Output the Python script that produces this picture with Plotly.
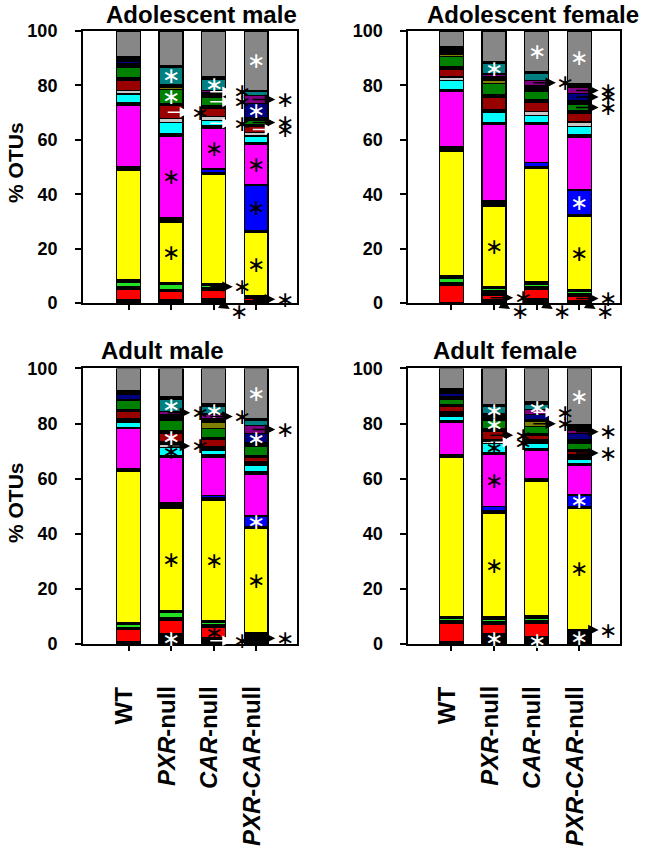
import plotly.graph_objects as go

# ---------------- data ----------------
taxon_keys = ["k0", "red", "k1", "lime", "k2", "yellow", "k3", "blue", "magenta", "k4",
              "cyan", "lgray", "k5a", "darkred", "k5", "dkgreen", "olive", "k6", "navy",
              "purple", "teal", "k7", "gray"]
taxon_names = ["Unclassified 1", "OTU group 1", "Unclassified 2", "OTU group 2", "Unclassified 3",
               "OTU group 3", "Unclassified 4", "OTU group 4", "OTU group 5", "Unclassified 5",
               "OTU group 6", "OTU group 7", "Unclassified 6", "OTU group 8", "Unclassified 7",
               "OTU group 9", "OTU group 10", "Unclassified 8", "OTU group 11", "OTU group 12",
               "OTU group 13", "Unclassified 9", "Others"]
taxon_colors = ["#000000", "#FF0000", "#000000", "#22E022", "#000000", "#FFFF00", "#000000",
                "#0000FF", "#FF00FF", "#000000", "#00FFFF", "#C8C8C8", "#000000", "#990000",
                "#000000", "#008000", "#808000", "#000000", "#000080", "#800080", "#008080",
                "#000000", "#878787"]

genotypes = ["WT", "PXR-null", "CAR-null", "PXR-CAR-null"]
genotype_labels = ["<b>WT</b>", "<b><i>PXR</i>-null</b>", "<b><i>CAR</i>-null</b>",
                   "<b><i>PXR</i>-<i>CAR</i>-null</b>"]
panel_titles = ["Adolescent male", "Adolescent female", "Adult male", "Adult female"]

# % OTUs per taxon (bottom -> top) for each bar
am_wt = [1.2, 3.7, 1.1, 1.7, 0.9, 40.1, 1.5, 0, 22.3, 1.0, 3.3, 1.4, 0, 3.5, 1.2, 3.9, 0, 1.2, 1.0, 0, 0, 1.5, 9.5]
am_pxr = [1.2, 3.2, 0.7, 1.6, 0.8, 22.2, 1.8, 0, 29.7, 0.9, 4.3, 1.4, 0, 4.7, 0.8, 5.3, 0.8, 1.0, 0, 0, 6.2, 0.8, 12.6]
am_car = [1.6, 3.0, 0.9, 1.0, 0.6, 40.1, 0.8, 1.3, 15.0, 0.8, 1.9, 1.5, 0, 3.1, 0.9, 3.0, 0, 1.7, 0, 1.0, 4.1, 0.8, 16.9]
am_dko = [1.0, 0.8, 1.0, 0, 0, 23.0, 0.8, 16.8, 14.8, 0.8, 2.4, 1.3, 0, 2.1, 0.7, 1.7, 0, 1.0, 5.2, 2.8, 1.5, 0.5, 21.8]

af_wt = [0.3, 6.2, 0.9, 1.8, 0.9, 45.6, 1.8, 0, 20.3, 0.8, 3.1, 1.4, 0, 2.9, 0.9, 3.6, 1.0, 0, 0, 0, 0, 2.7, 5.8]
af_pxr = [1.2, 1.5, 2.0, 0.8, 0.7, 29.5, 1.9, 0, 27.9, 0.9, 3.8, 0.8, 0, 4.5, 1.0, 4.2, 1.2, 1.3, 0, 1.0, 3.8, 0.8, 11.2]
af_car = [1.5, 3.7, 1.0, 0.8, 1.0, 41.5, 0.7, 1.5, 13.8, 0.9, 2.6, 1.4, 0, 3.5, 0.7, 3.2, 0, 2.2, 0, 1.9, 2.5, 0.6, 15.0]
af_dko = [0.9, 1.6, 0.9, 0.9, 0.6, 26.9, 0.8, 9.0, 19.4, 0.8, 3.2, 1.5, 0, 3.1, 1.2, 2.1, 0, 1.6, 2.5, 2.2, 0, 1.5, 19.3]

adm_wt = [0.7, 4.5, 0.6, 1.2, 0.9, 54.6, 1.2, 0, 14.5, 0.5, 1.9, 0.4, 0.8, 2.5, 0.8, 3.3, 0, 0.4, 1.8, 0, 0, 1.4, 8.0]
adm_pxr = [3.6, 5.0, 0.8, 1.9, 0.8, 37.3, 1.8, 0, 16.4, 0.6, 3.2, 1.0, 1.0, 3.2, 0.9, 3.6, 0, 2.2, 0, 1.2, 4.2, 0.9, 10.4]
adm_car = [2.4, 3.7, 0.9, 1.0, 0.6, 43.6, 0.8, 1.0, 13.8, 0.8, 1.7, 0, 1.4, 2.5, 0.8, 3.2, 2.1, 1.4, 0, 1.8, 2.8, 0.9, 12.8]
adm_dko = [4.2, 0, 0, 0, 0, 37.9, 0.6, 3.7, 15.3, 0.7, 2.5, 0, 1.2, 1.7, 0.7, 3.3, 0, 1.2, 3.3, 3.1, 1.7, 0.7, 18.2]

adf_wt = [0.7, 6.9, 0.9, 0.9, 0.6, 57.6, 1.2, 0, 11.6, 0.8, 1.5, 0, 1.6, 1.8, 0.9, 1.8, 0, 0.9, 1.3, 0, 0, 1.5, 7.5]
adf_pxr = [3.6, 3.6, 1.0, 0.9, 0.7, 37.7, 0.8, 1.6, 18.9, 0.7, 3.3, 0.9, 0.6, 3.0, 1.0, 3.0, 0, 2.4, 0, 0, 2.4, 0.9, 13.0]
adf_car = [2.8, 4.8, 0.8, 1.0, 0.9, 48.6, 1.2, 0, 10.3, 0.6, 1.8, 0, 1.2, 1.8, 0.6, 2.5, 2.0, 0.7, 1.7, 1.7, 2.0, 0.9, 12.1]
adf_dko = [4.9, 0.3, 0, 0, 0, 44.1, 0.6, 4.2, 10.6, 0.8, 1.6, 0, 1.7, 1.0, 0.6, 2.4, 0, 1.2, 2.3, 1.4, 0, 2.0, 20.3]

panel_values = [[am_wt, am_pxr, am_car, am_dko],
                [af_wt, af_pxr, af_car, af_dko],
                [adm_wt, adm_pxr, adm_car, adm_dko],
                [adf_wt, adf_pxr, adf_car, adf_dko]]

# significance markers: (panel, bar, taxon, style, colour)
markers = [
    (0, 1, "teal", "in", "white"), (0, 1, "dkgreen", "in", "white"), (0, 1, "darkred", "arrow", "white"),
    (0, 1, "magenta", "in", "black"), (0, 1, "yellow", "in", "black"),
    (0, 2, "teal", "in", "white"), (0, 2, "purple", "arrow", "white"), (0, 2, "dkgreen", "arrow", "white"),
    (0, 2, "cyan", "arrow", "white"), (0, 2, "magenta", "in", "black"), (0, 2, "lime", "arrow", "black"),
    (0, 2, "k0", "down", "black"),
    (0, 3, "gray", "in", "white"), (0, 3, "purple", "arrow", "black"), (0, 3, "navy", "in", "white"),
    (0, 3, "dkgreen", "arrow", "black"), (0, 3, "darkred", "arrow", "white"), (0, 3, "magenta", "in", "black"),
    (0, 3, "blue", "in", "black"), (0, 3, "yellow", "in", "black"), (0, 3, "red", "arrow", "black"),

    (1, 1, "teal", "in", "white"), (1, 1, "yellow", "in", "black"), (1, 1, "red", "arrow", "black"),
    (1, 1, "k0", "down", "black"),
    (1, 2, "gray", "in", "white"), (1, 2, "purple", "arrow", "black"), (1, 2, "k0", "down", "black"),
    (1, 3, "gray", "in", "white"), (1, 3, "purple", "arrow", "black"), (1, 3, "navy", "arrow", "black"),
    (1, 3, "dkgreen", "arrow", "black"), (1, 3, "blue", "in", "white"), (1, 3, "yellow", "in", "black"),
    (1, 3, "red", "arrow", "black"), (1, 3, "k0", "down", "black"),

    (2, 1, "teal", "in", "white"), (2, 1, "purple", "arrow", "black"), (2, 1, "darkred", "in", "white"),
    (2, 1, "lgray", "arrow", "black"), (2, 1, "cyan", "in", "black"), (2, 1, "yellow", "in", "black"),
    (2, 1, "k0", "in", "white"),
    (2, 2, "teal", "in", "white"), (2, 2, "purple", "arrow", "black"), (2, 2, "yellow", "in", "black"),
    (2, 2, "red", "in", "black"), (2, 2, "k0", "arrow", "white"),
    (2, 3, "gray", "in", "white"), (2, 3, "purple", "arrow", "black"), (2, 3, "navy", "in", "white"),
    (2, 3, "blue", "in", "white"), (2, 3, "yellow", "in", "black"), (2, 3, "k0", "arrow", "black"),

    (3, 1, "teal", "in", "white"), (3, 1, "dkgreen", "in", "white"), (3, 1, "darkred", "arrow", "black"),
    (3, 1, "lgray", "arrow", "white"), (3, 1, "cyan", "in", "black"), (3, 1, "magenta", "in", "black"),
    (3, 1, "yellow", "in", "black"), (3, 1, "k0", "in", "white"),
    (3, 2, "teal", "in", "white"), (3, 2, "purple", "arrow", "white"), (3, 2, "olive", "arrow", "black"),
    (3, 2, "k0", "in", "white"),
    (3, 3, "gray", "in", "white"), (3, 3, "purple", "arrow", "black"), (3, 3, "darkred", "arrow", "black"),
    (3, 3, "blue", "in", "white"), (3, 3, "yellow", "in", "black"), (3, 3, "red", "arrow", "black"),
    (3, 3, "k0", "in", "white"),
]

# ---------------- layout geometry ----------------
FONT = "Liberation Sans, Arial, sans-serif"
STAR = "\u2217"
STAR_SIZE = 22
xdom = [[0.1281, 0.4583], [0.6304, 0.9568], [0.1281, 0.4583], [0.6304, 0.9568]]
ydom = [[0.6439, 0.9636], [0.6439, 0.9636], [0.2433, 0.5670], [0.2433, 0.5670]]
xrng = [[-1.07, 3.96], [-1.0, 3.95], [-1.07, 3.96], [-1.0, 3.95]]

fig = go.Figure()
positions = list(range(len(genotypes)))

for p in range(4):
    sfx = "" if p == 0 else str(p + 1)
    for t, key in enumerate(taxon_keys):
        fig.add_trace(go.Bar(
            x=positions,
            y=[panel_values[p][b][t] for b in positions],
            name=taxon_names[t],
            customdata=genotypes,
            hovertemplate="%{customdata}: %{y}%<extra>" + taxon_names[t] + "</extra>",
            width=0.56,
            marker=dict(color=taxon_colors[t], line=dict(color="black", width=1.3)),
            xaxis="x" + sfx, yaxis="y" + sfx, showlegend=False,
        ))

layout = dict(
    width=648, height=851, barmode="stack",
    margin=dict(l=0, r=0, t=0, b=0, autoexpand=False),
    paper_bgcolor="white", plot_bgcolor="white",
    font=dict(family=FONT, color="black"),
    showlegend=False,
)
for p in range(4):
    sfx = "" if p == 0 else str(p + 1)
    layout["xaxis" + sfx] = dict(
        domain=xdom[p], range=xrng[p], tickvals=positions, ticks="outside", ticklen=5,
        tickwidth=1.5, tickcolor="black", showticklabels=False, showline=True,
        linecolor="black", linewidth=2, mirror=True, showgrid=False, zeroline=False,
        anchor="y" + sfx, fixedrange=True, automargin=False)
    layout["yaxis" + sfx] = dict(
        domain=ydom[p], range=[0, 100], tickvals=[0, 20, 40, 60, 80, 100], ticks="outside",
        ticklen=6, tickwidth=1.5, tickcolor="black", showline=True, linecolor="black",
        linewidth=2, mirror=True, showgrid=False, zeroline=False, anchor="x" + sfx,
        tickfont=dict(family=FONT, size=18, color="black", weight="bold"),
        ticklabelstandoff=14, fixedrange=True, automargin=False)
fig.update_layout(**layout)

annotations = []
# panel titles
title_pos = [(0.3117, 0.983), (0.8226, 0.983), (0.25, 0.5887), (0.779, 0.5887)]
for p in range(4):
    annotations.append(dict(text="<b>" + panel_titles[p] + "</b>", xref="paper", yref="paper",
                            x=title_pos[p][0], y=title_pos[p][1], xanchor="center", yanchor="middle",
                            showarrow=False, font=dict(family=FONT, size=24, color="black")))
# y-axis titles
for yc in (0.8096, 0.41):
    annotations.append(dict(text="<b>% OTUs</b>", xref="paper", yref="paper", x=0.023, y=yc,
                            xanchor="center", yanchor="middle", textangle=-90, showarrow=False,
                            font=dict(family=FONT, size=21, color="black")))
# genotype labels under bottom panels
for p in (2, 3):
    sfx = str(p + 1)
    for b in positions:
        annotations.append(dict(text=genotype_labels[b], xref="x" + sfx, yref="paper", x=b - 0.12,
                                y=0.1962, xanchor="center", yanchor="top", textangle=-90,
                                showarrow=False, font=dict(family=FONT, size=24, color="black")))


def seg_mid(p, b, key):
    vals = panel_values[p][b]
    i = taxon_keys.index(key)
    return sum(vals[:i]) + vals[i] / 2.0


for (p, b, key, style, col) in markers:
    sfx = "" if p == 0 else str(p + 1)
    xr, yr = "x" + sfx, "y" + sfx
    if style == "in":
        annotations.append(dict(text=STAR, xref=xr, yref=yr, x=b, y=seg_mid(p, b, key),
                                showarrow=False,
                                font=dict(family="DejaVu Sans", size=STAR_SIZE, color=col)))
    elif style == "arrow":
        ym = seg_mid(p, b, key)
        annotations.append(dict(text="", xref=xr, yref=yr, x=b + 0.45, y=ym, showarrow=True,
                                ax=-24, ay=0, arrowhead=2, arrowsize=1.4, arrowwidth=1.5,
                                arrowcolor=col, standoff=0))
        annotations.append(dict(text=STAR, xref=xr, yref=yr, x=b + 0.67, y=ym, showarrow=False,
                                font=dict(family="DejaVu Sans", size=STAR_SIZE, color="black")))
    else:  # down-right arrow below the axis
        annotations.append(dict(text="", xref=xr, yref=yr, x=b + 0.38, y=0, yshift=-6,
                                showarrow=True, ax=-16, ay=-10, arrowhead=2, arrowsize=1.4,
                                arrowwidth=1.5, arrowcolor=col, standoff=0))
        annotations.append(dict(text=STAR, xref=xr, yref=yr, x=b + 0.6, y=0, yshift=-8,
                                showarrow=False,
                                font=dict(family="DejaVu Sans", size=STAR_SIZE, color="black")))

fig.update_layout(annotations=annotations)
fig.write_html("out.html", config={"displayModeBar": False},
               post_script="document.body.style.margin='0';document.body.style.overflow='hidden';")
